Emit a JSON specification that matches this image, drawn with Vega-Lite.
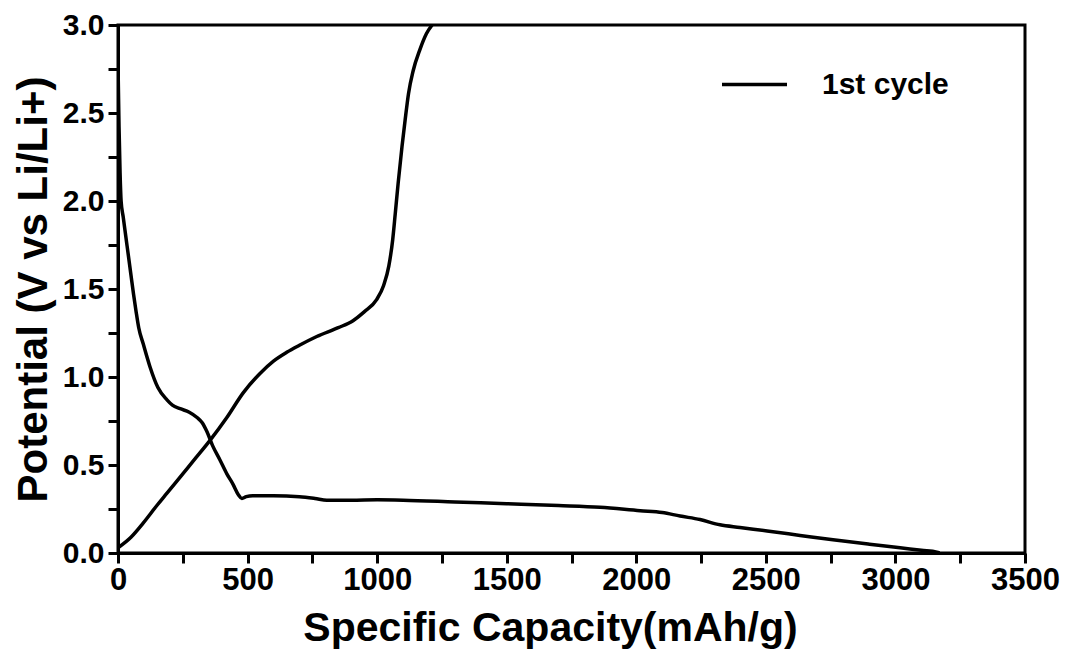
{
  "$schema": "https://vega.github.io/schema/vega-lite/v6.json",
  "autosize": {"type": "none"},
  "width": 907,
  "height": 528,
  "padding": {"left": 118, "top": 25, "right": 42, "bottom": 100},
  "background": "white",
  "config": {
    "font": "Liberation Sans",
    "view": {"stroke": "black", "strokeWidth": 3},
    "axis": {
      "domainColor": "black",
      "domainWidth": 3,
      "tickColor": "black",
      "tickWidth": 3,
      "tickSize": 10,
      "grid": false,
      "labelFont": "Liberation Sans",
      "labelFontWeight": "bold",
      "labelColor": "black",
      "titleFont": "Liberation Sans",
      "titleFontWeight": "bold",
      "titleColor": "black"
    }
  },
  "data": {
    "values": [
      {"cycle": "1st cycle", "branch": "discharge", "i": 1, "capacity": 0, "potential": 2.78},
      {"cycle": "1st cycle", "branch": "discharge", "i": 2, "capacity": 4, "potential": 2.42},
      {"cycle": "1st cycle", "branch": "discharge", "i": 3, "capacity": 8, "potential": 2.16},
      {"cycle": "1st cycle", "branch": "discharge", "i": 4, "capacity": 12, "potential": 2.0},
      {"cycle": "1st cycle", "branch": "discharge", "i": 5, "capacity": 20, "potential": 1.91},
      {"cycle": "1st cycle", "branch": "discharge", "i": 6, "capacity": 30, "potential": 1.8},
      {"cycle": "1st cycle", "branch": "discharge", "i": 7, "capacity": 40, "potential": 1.69},
      {"cycle": "1st cycle", "branch": "discharge", "i": 8, "capacity": 50, "potential": 1.58},
      {"cycle": "1st cycle", "branch": "discharge", "i": 9, "capacity": 60, "potential": 1.47},
      {"cycle": "1st cycle", "branch": "discharge", "i": 10, "capacity": 70, "potential": 1.37},
      {"cycle": "1st cycle", "branch": "discharge", "i": 11, "capacity": 80, "potential": 1.28},
      {"cycle": "1st cycle", "branch": "discharge", "i": 12, "capacity": 97, "potential": 1.19},
      {"cycle": "1st cycle", "branch": "discharge", "i": 13, "capacity": 123, "potential": 1.06},
      {"cycle": "1st cycle", "branch": "discharge", "i": 14, "capacity": 154, "potential": 0.94},
      {"cycle": "1st cycle", "branch": "discharge", "i": 15, "capacity": 189, "potential": 0.87},
      {"cycle": "1st cycle", "branch": "discharge", "i": 16, "capacity": 210, "potential": 0.84},
      {"cycle": "1st cycle", "branch": "discharge", "i": 17, "capacity": 240, "potential": 0.82},
      {"cycle": "1st cycle", "branch": "discharge", "i": 18, "capacity": 275, "potential": 0.8},
      {"cycle": "1st cycle", "branch": "discharge", "i": 19, "capacity": 305, "potential": 0.77},
      {"cycle": "1st cycle", "branch": "discharge", "i": 20, "capacity": 325, "potential": 0.74},
      {"cycle": "1st cycle", "branch": "discharge", "i": 21, "capacity": 343, "potential": 0.69},
      {"cycle": "1st cycle", "branch": "discharge", "i": 22, "capacity": 365, "potential": 0.61},
      {"cycle": "1st cycle", "branch": "discharge", "i": 23, "capacity": 393, "potential": 0.53},
      {"cycle": "1st cycle", "branch": "discharge", "i": 24, "capacity": 420, "potential": 0.45},
      {"cycle": "1st cycle", "branch": "discharge", "i": 25, "capacity": 444, "potential": 0.39},
      {"cycle": "1st cycle", "branch": "discharge", "i": 26, "capacity": 465, "potential": 0.33},
      {"cycle": "1st cycle", "branch": "discharge", "i": 27, "capacity": 478, "potential": 0.31},
      {"cycle": "1st cycle", "branch": "discharge", "i": 28, "capacity": 495, "potential": 0.32},
      {"cycle": "1st cycle", "branch": "discharge", "i": 29, "capacity": 520, "potential": 0.325},
      {"cycle": "1st cycle", "branch": "discharge", "i": 30, "capacity": 600, "potential": 0.325},
      {"cycle": "1st cycle", "branch": "discharge", "i": 31, "capacity": 700, "potential": 0.32},
      {"cycle": "1st cycle", "branch": "discharge", "i": 32, "capacity": 760, "potential": 0.31},
      {"cycle": "1st cycle", "branch": "discharge", "i": 33, "capacity": 806, "potential": 0.3},
      {"cycle": "1st cycle", "branch": "discharge", "i": 34, "capacity": 900, "potential": 0.3},
      {"cycle": "1st cycle", "branch": "discharge", "i": 35, "capacity": 1000, "potential": 0.302},
      {"cycle": "1st cycle", "branch": "discharge", "i": 36, "capacity": 1100, "potential": 0.3},
      {"cycle": "1st cycle", "branch": "discharge", "i": 37, "capacity": 1300, "potential": 0.29},
      {"cycle": "1st cycle", "branch": "discharge", "i": 38, "capacity": 1500, "potential": 0.28},
      {"cycle": "1st cycle", "branch": "discharge", "i": 39, "capacity": 1700, "potential": 0.27},
      {"cycle": "1st cycle", "branch": "discharge", "i": 40, "capacity": 1860, "potential": 0.26},
      {"cycle": "1st cycle", "branch": "discharge", "i": 41, "capacity": 2015, "potential": 0.24},
      {"cycle": "1st cycle", "branch": "discharge", "i": 42, "capacity": 2100, "potential": 0.23},
      {"cycle": "1st cycle", "branch": "discharge", "i": 43, "capacity": 2169, "potential": 0.21},
      {"cycle": "1st cycle", "branch": "discharge", "i": 44, "capacity": 2246, "potential": 0.19},
      {"cycle": "1st cycle", "branch": "discharge", "i": 45, "capacity": 2323, "potential": 0.16},
      {"cycle": "1st cycle", "branch": "discharge", "i": 46, "capacity": 2400, "potential": 0.145},
      {"cycle": "1st cycle", "branch": "discharge", "i": 47, "capacity": 2505, "potential": 0.125},
      {"cycle": "1st cycle", "branch": "discharge", "i": 48, "capacity": 2632, "potential": 0.1},
      {"cycle": "1st cycle", "branch": "discharge", "i": 49, "capacity": 2759, "potential": 0.075},
      {"cycle": "1st cycle", "branch": "discharge", "i": 50, "capacity": 2900, "potential": 0.05},
      {"cycle": "1st cycle", "branch": "discharge", "i": 51, "capacity": 3018, "potential": 0.03},
      {"cycle": "1st cycle", "branch": "discharge", "i": 52, "capacity": 3100, "potential": 0.015},
      {"cycle": "1st cycle", "branch": "discharge", "i": 53, "capacity": 3160, "potential": 0.005},
      {"cycle": "1st cycle", "branch": "discharge", "i": 54, "capacity": 3170, "potential": 0.0},
      {"cycle": "1st cycle", "branch": "charge", "i": 1, "capacity": 0, "potential": 0.03},
      {"cycle": "1st cycle", "branch": "charge", "i": 2, "capacity": 50, "potential": 0.09},
      {"cycle": "1st cycle", "branch": "charge", "i": 3, "capacity": 97, "potential": 0.17},
      {"cycle": "1st cycle", "branch": "charge", "i": 4, "capacity": 150, "potential": 0.27},
      {"cycle": "1st cycle", "branch": "charge", "i": 5, "capacity": 189, "potential": 0.34},
      {"cycle": "1st cycle", "branch": "charge", "i": 6, "capacity": 250, "potential": 0.45},
      {"cycle": "1st cycle", "branch": "charge", "i": 7, "capacity": 300, "potential": 0.54},
      {"cycle": "1st cycle", "branch": "charge", "i": 8, "capacity": 355, "potential": 0.64},
      {"cycle": "1st cycle", "branch": "charge", "i": 9, "capacity": 420, "potential": 0.77},
      {"cycle": "1st cycle", "branch": "charge", "i": 10, "capacity": 483, "potential": 0.91},
      {"cycle": "1st cycle", "branch": "charge", "i": 11, "capacity": 548, "potential": 1.02},
      {"cycle": "1st cycle", "branch": "charge", "i": 12, "capacity": 600, "potential": 1.09},
      {"cycle": "1st cycle", "branch": "charge", "i": 13, "capacity": 651, "potential": 1.14},
      {"cycle": "1st cycle", "branch": "charge", "i": 14, "capacity": 700, "potential": 1.18},
      {"cycle": "1st cycle", "branch": "charge", "i": 15, "capacity": 767, "potential": 1.23},
      {"cycle": "1st cycle", "branch": "charge", "i": 16, "capacity": 850, "potential": 1.28},
      {"cycle": "1st cycle", "branch": "charge", "i": 17, "capacity": 907, "potential": 1.32},
      {"cycle": "1st cycle", "branch": "charge", "i": 18, "capacity": 950, "potential": 1.37},
      {"cycle": "1st cycle", "branch": "charge", "i": 19, "capacity": 998, "potential": 1.44},
      {"cycle": "1st cycle", "branch": "charge", "i": 20, "capacity": 1025, "potential": 1.52},
      {"cycle": "1st cycle", "branch": "charge", "i": 21, "capacity": 1045, "potential": 1.63},
      {"cycle": "1st cycle", "branch": "charge", "i": 22, "capacity": 1060, "potential": 1.78},
      {"cycle": "1st cycle", "branch": "charge", "i": 23, "capacity": 1070, "potential": 1.93},
      {"cycle": "1st cycle", "branch": "charge", "i": 24, "capacity": 1081, "potential": 2.1},
      {"cycle": "1st cycle", "branch": "charge", "i": 25, "capacity": 1096, "potential": 2.31},
      {"cycle": "1st cycle", "branch": "charge", "i": 26, "capacity": 1108, "potential": 2.46},
      {"cycle": "1st cycle", "branch": "charge", "i": 27, "capacity": 1121, "potential": 2.61},
      {"cycle": "1st cycle", "branch": "charge", "i": 28, "capacity": 1139, "potential": 2.74},
      {"cycle": "1st cycle", "branch": "charge", "i": 29, "capacity": 1165, "potential": 2.86},
      {"cycle": "1st cycle", "branch": "charge", "i": 30, "capacity": 1190, "potential": 2.95},
      {"cycle": "1st cycle", "branch": "charge", "i": 31, "capacity": 1212, "potential": 3.0}
    ]
  },
  "mark": {"type": "line", "strokeWidth": 3.5, "interpolate": "monotone", "clip": true},
  "encoding": {
    "x": {
      "field": "capacity",
      "type": "quantitative",
      "scale": {"domain": [0, 3500], "nice": false, "zero": false},
      "axis": {
        "title": "Specific Capacity(mAh/g)",
        "values": [0, 250, 500, 750, 1000, 1250, 1500, 1750, 2000, 2250, 2500, 2750, 3000, 3250, 3500],
        "labelExpr": "datum.value % 500 === 0 ? datum.label : ''",
        "format": "d",
        "labelFontSize": 31,
        "labelPadding": 2,
        "labelFlush": false,
        "labelOverlap": false,
        "titleFontSize": 41,
        "titleX": 432,
        "titleY": 87,
        "titleBaseline": "alphabetic",
        "titleAnchor": "middle"
      }
    },
    "y": {
      "field": "potential",
      "type": "quantitative",
      "scale": {"domain": [0, 3], "nice": false, "zero": false},
      "axis": {
        "title": "Potential (V vs Li/Li+)",
        "values": [0, 0.25, 0.5, 0.75, 1, 1.25, 1.5, 1.75, 2, 2.25, 2.5, 2.75, 3],
        "labelExpr": "(datum.value * 2) % 1 === 0 ? format(datum.value, '.1f') : ''",
        "labelFontSize": 30,
        "labelPadding": 4,
        "labelFlush": false,
        "labelOverlap": false,
        "titleFontSize": 42,
        "titleAngle": -90,
        "titleX": -85,
        "titleY": 264,
        "titleBaseline": "middle",
        "titleAnchor": "middle"
      }
    },
    "color": {
      "field": "cycle",
      "type": "nominal",
      "scale": {"range": ["black"]},
      "legend": {
        "title": null,
        "orient": "none",
        "legendX": 602,
        "legendY": 25,
        "padding": 0,
        "symbolType": "stroke",
        "symbolSize": 4225,
        "symbolStrokeWidth": 3.5,
        "symbolStrokeColor": "black",
        "labelFontSize": 30,
        "labelFontWeight": "bold",
        "labelFont": "Liberation Sans",
        "labelColor": "black",
        "labelOffset": 33
      }
    },
    "detail": {"field": "branch", "type": "nominal"},
    "order": {"field": "i", "type": "quantitative"}
  }
}
